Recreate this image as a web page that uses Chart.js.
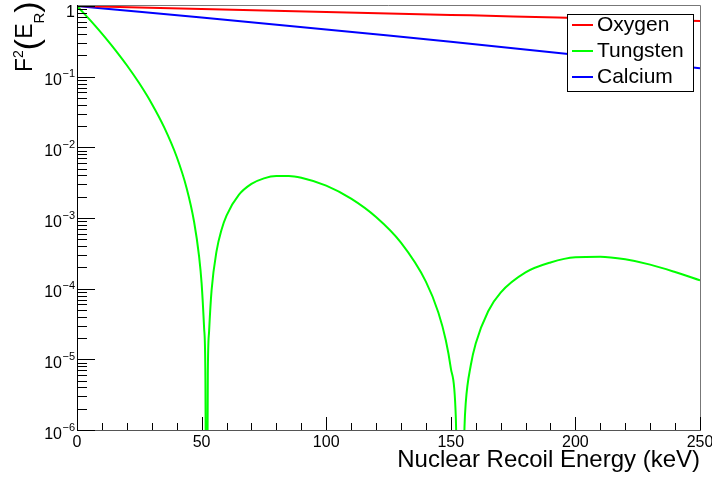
<!DOCTYPE html>
<html>
<head>
<meta charset="utf-8">
<script src="https://cdn.jsdelivr.net/npm/chart.js@4"></script>
<style>
  html, body { margin: 0; padding: 0; background: #fff; }
  canvas { display: block; }
</style>
</head>
<body>
<canvas id="ff" width="712" height="480"></canvas>
<script>
// Helm form factor squared F^2(E_R) for O, W and Ca targets

// O and Ca are smooth on a log axis, a 25 keV grid is enough
const lightEnergy = [0, 25, 50, 75, 100, 125, 150, 175, 200, 225, 250];
const oxygen  = [1, 0.9533, 0.9086, 0.8659, 0.8251, 0.7861, 0.7488, 0.7131, 0.6791, 0.6466, 0.6155];
const calcium = [1, 0.8305, 0.6878, 0.5675, 0.4666, 0.3823, 0.3117, 0.2530, 0.2044, 0.1643, 0.1312];

// W has two diffraction minima (~52 and ~154 keV); the 1e-9 entries sit
// well under the axis floor so the curve dives off the bottom there
const tungstenEnergy = [
  0, 2.5, 5, 7.5, 10, 12.5, 15, 20, 25, 30, 35, 40, 44, 47, 49, 50, 51, 51.5,
  52, 52.5, 53, 54, 56, 58, 60, 65, 70, 75, 80, 85, 90, 100, 110, 120, 130,
  140, 145, 148, 150, 152, 153.7, 155.5, 156, 158, 160, 165, 170, 180, 190,
  200, 210, 220, 230, 240, 250
];
const tungsten = [
  1, 0.8061, 0.6459, 0.5143, 0.4065, 0.3188, 0.2478, 0.1451, 0.08054, 0.04152,
  0.01917, 0.007354, 0.002643, 0.000879, 0.0002844, 0.00012, 2.8e-5, 6.9e-6,
  1e-9, 6.3e-6, 2.47e-5, 9.44e-5, 3.389e-4, 6.815e-4, 1.081e-3, 2.134e-3,
  3.034e-3, 3.641e-3, 3.929e-3, 3.931e-3, 3.709e-3, 2.867e-3, 1.877e-3,
  1.031e-3, 4.474e-4, 1.259e-4, 4.60e-5, 1.86e-5, 7.53e-6, 1.55e-6,
  1e-9, 1.1e-6, 2.43e-6, 8.18e-6, 1.676e-5, 4.8e-5, 8.8e-5, 1.70e-4,
  2.35e-4, 2.78e-4, 2.83e-4, 2.60e-4, 2.19e-4, 1.72e-4, 1.31e-4
];

const xMajorTicks = [0, 50, 100, 150, 200, 250];
const xMinorStep = 10;
const yDecades = [0, -1, -2, -3, -4, -5, -6];

const FONT = '"Liberation Sans", Arial, Helvetica, sans-serif';
const font = px => px + 'px ' + FONT;
const toPoints = (xs, ys) => xs.map((v, i) => ({ x: v, y: ys[i] }));

function seg(ctx, x1, y1, x2, y2) {
  ctx.beginPath();
  ctx.moveTo(x1, y1);
  ctx.lineTo(x2, y2);
  ctx.stroke();
}

// ROOT-like frame: ticks inside the pad, sub/superscript labels, boxed legend
const rootFrame = {
  id: 'rootFrame',
  afterDatasetsDraw(chart) {
    const ctx = chart.ctx;
    ctx.save();
    ctx.fillStyle = '#fff';
    ctx.fillRect(567, 14, 127, 77);
    ctx.strokeStyle = '#000';
    ctx.lineWidth = 1;
    ctx.strokeRect(567.5, 14.5, 126, 77);
    chart.data.datasets.forEach((ds, i) => {
      const ly = 25 + i * 26;
      ctx.strokeStyle = ds.borderColor;
      ctx.lineWidth = 2;
      seg(ctx, 572, ly, 593, ly);
      ctx.fillStyle = '#000';
      ctx.font = font(21);
      ctx.textAlign = 'left';
      ctx.textBaseline = 'alphabetic';
      ctx.fillText(ds.label, 597, ly + 6);
    });
    ctx.restore();
  },

  afterDraw(chart) {
    const { ctx, chartArea: a, scales: { x, y } } = chart;
    ctx.save();
    ctx.lineWidth = 1;

    // frame and axes
    ctx.strokeStyle = '#777';
    ctx.beginPath();
    ctx.moveTo(a.left, a.top - 0.5);
    ctx.lineTo(a.right + 0.5, a.top - 0.5);
    ctx.lineTo(a.right + 0.5, a.bottom);
    ctx.stroke();
    ctx.strokeStyle = '#000';
    seg(ctx, a.left + 0.5, a.top - 1, a.left + 0.5, a.bottom + 1);
    ctx.strokeStyle = '#555';
    seg(ctx, a.left, a.bottom + 0.5, a.right + 1, a.bottom + 0.5);

    // x ticks
    ctx.strokeStyle = '#000';
    for (let v = xMajorTicks[0]; v <= xMajorTicks[xMajorTicks.length - 1]; v += xMinorStep) {
      const px = Math.round(x.getPixelForValue(v)) + 0.5;
      const len = xMajorTicks.includes(v) ? 13 : 7;
      seg(ctx, px, a.bottom, px, a.bottom - len);
    }

    // y ticks: decades plus 2..9 minors
    yDecades.forEach(d => {
      const py = Math.round(y.getPixelForValue(Math.pow(10, d))) + 0.5;
      seg(ctx, a.left, py, a.left + 18, py);
      if (d === yDecades[yDecades.length - 1]) return;
      for (let m = 2; m <= 9; m++) {
        const pm = Math.round(y.getPixelForValue(m * Math.pow(10, d - 1))) + 0.5;
        seg(ctx, a.left, pm, a.left + 10, pm);
      }
    });

    // tick labels
    ctx.fillStyle = '#000';
    ctx.textBaseline = 'alphabetic';
    ctx.textAlign = 'center';
    ctx.font = font(16);
    xMajorTicks.forEach(v => ctx.fillText(String(v), x.getPixelForValue(v), 447));

    ctx.textAlign = 'right';
    yDecades.forEach(d => {
      const py = y.getPixelForValue(Math.pow(10, d));
      if (d === 0) {
        ctx.font = font(16);
        ctx.fillText('1', 75, py + 11);
        return;
      }
      const exp = '\u2212' + (-d);
      ctx.font = font(11);
      ctx.fillText(exp, 75, py + 0.5);
      const w = ctx.measureText(exp).width;
      ctx.font = font(16);
      ctx.fillText('10', 75 - w - 0.5, py + 8.5);
    });

    // x title
    ctx.font = font(24);
    ctx.fillText('Nuclear Recoil Energy (keV)', a.right, 467);

    // y title F^2(E_R), rotated, running up from y = 72
    ctx.translate(32, 72);
    ctx.rotate(-Math.PI / 2);
    ctx.textAlign = 'left';
    let cx = 0;
    const piece = (txt, px, dy) => {
      ctx.font = font(px);
      ctx.fillText(txt, cx, dy);
      cx += ctx.measureText(txt).width;
    };
    piece('F', 23, 0);
    piece('2', 14, -9);
    piece('(', 34, 6);
    piece('E', 23, 0);
    piece('R', 15, 12);
    piece(')', 34, 6);

    ctx.restore();
  }
};

new Chart(document.getElementById('ff'), {
  type: 'line',
  data: {
    datasets: [
      { label: 'Oxygen',   data: toPoints(lightEnergy, oxygen),       borderColor: '#ff0000' },
      { label: 'Tungsten', data: toPoints(tungstenEnergy, tungsten),  borderColor: '#00ff00' },
      { label: 'Calcium',  data: toPoints(lightEnergy, calcium),      borderColor: '#0000ff' }
    ]
  },
  options: {
    responsive: false,
    animation: false,
    layout: { padding: { left: 77, right: 12, top: 6, bottom: 50 } },
    datasets: {
      line: { borderWidth: 2, pointRadius: 0, fill: false, cubicInterpolationMode: 'monotone' }
    },
    scales: {
      x: { type: 'linear', min: 0, max: 250, display: false },
      y: { type: 'logarithmic', min: 1e-6, max: 1, display: false }
    },
    plugins: { legend: { display: false }, tooltip: { enabled: false } }
  },
  plugins: [rootFrame]
});
</script>
</body>
</html>
